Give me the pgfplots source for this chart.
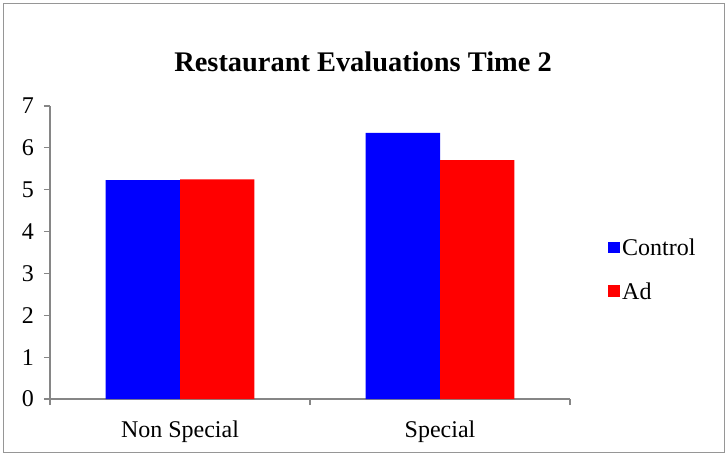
\documentclass[border=0pt]{standalone}
\usepackage{pgfplots}
\pgfplotsset{compat=1.18}
\usepackage{fontspec}
\setmainfont{Liberation Serif}
\definecolor{axgray}{RGB}{134,134,134}
\definecolor{framegray}{RGB}{150,150,150}
\definecolor{cblue}{RGB}{0,0,255}
\definecolor{cred}{RGB}{255,0,0}
\begin{document}
\begin{tikzpicture}
\useasboundingbox (0,0) rectangle (546pt,-342pt);
\draw[framegray, line width=0.8pt] (2.5pt,-2.5pt) rectangle (543.5pt,-339.5pt);
\begin{axis}[
  at={(37.5pt,-299.25pt)}, anchor=south west,
  scale only axis, width=390pt, height=219.75pt,
  ybar=0pt, bar width=0.2865,
  xmin=-0.5, xmax=1.5, ymin=0, ymax=7,
  axis lines=left, axis line style={-, axgray, line width=0.8pt},
  tick align=outside,
  ytick={0,1,...,7},
  xtick={0,1}, xticklabels={Non Special, Special},
  minor xtick={-0.5,0.5,1.5},
  x tick style={draw=none},
  minor x tick style={draw=axgray, line width=0.8pt},
  y tick style={axgray, line width=0.8pt},
  major tick length=4.5pt, minor tick length=4.5pt,
  /pgf/number format/assume math mode=true,
  tick label style={font=\fontsize{18}{21}\selectfont, black},
  yticklabel style={xshift=-4pt},
  xticklabel style={yshift=-8.5pt},
  title={Restaurant Evaluations Time 2},
  title style={font=\fontsize{21.3}{24}\selectfont\bfseries, at={(rel axis cs:0.602,1.122)}, anchor=center},
  legend style={draw=none, fill=none, at={(rel axis cs:1.073,0.555)}, anchor=north west,
    font=\fontsize{18}{21}\selectfont, row sep=14.5pt, inner sep=0pt},
  legend cell align=left,
  legend image code/.code={\fill[#1] (0pt,-3.5pt) rectangle (8.5pt,5pt);},
]
\addplot[fill=cblue, draw=none] coordinates {(0,5.23) (1,6.36)};
\addplot[fill=cred, draw=none] coordinates {(0,5.25) (1,5.71)};
\legend{Control, Ad}
\end{axis}
\end{tikzpicture}
\end{document}
